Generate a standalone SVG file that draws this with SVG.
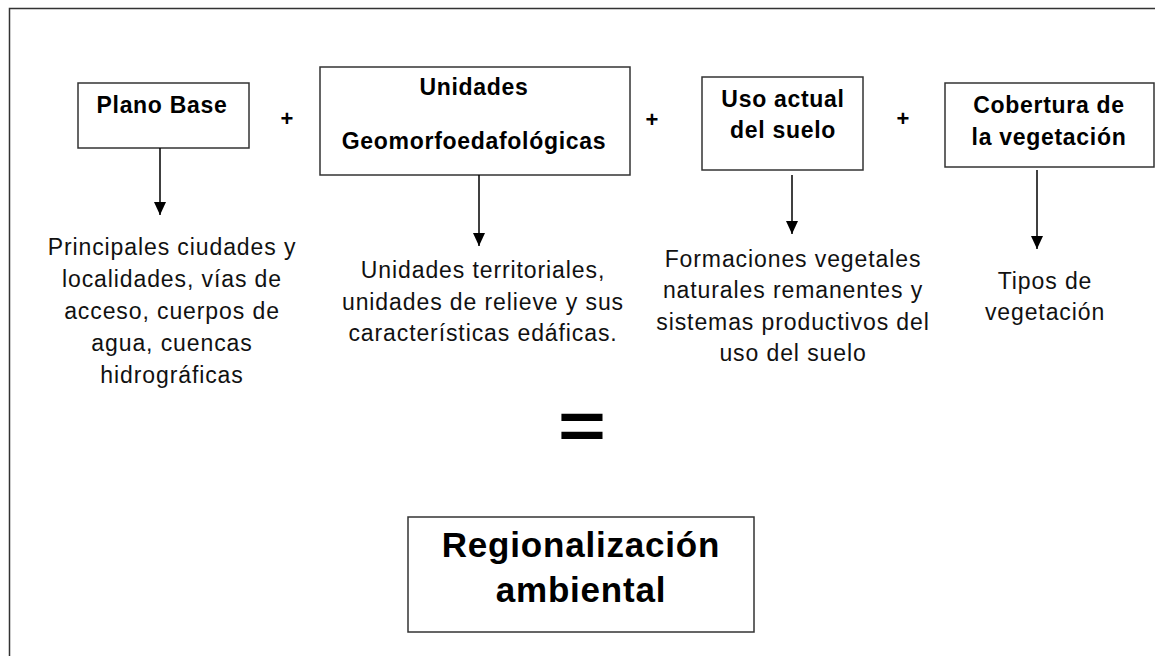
<svg xmlns="http://www.w3.org/2000/svg" width="1155" height="656" viewBox="0 0 1155 656">
  <style>
    .box { fill: #ffffff; stroke: #333333; stroke-width: 1.5; }
    .title { font-family: "Liberation Sans", Arial, sans-serif; font-weight: bold; font-size: 23px; letter-spacing: 0.7px; fill: #000; text-anchor: middle; }
    .desc { font-family: "Liberation Sans", Arial, sans-serif; font-size: 23px; letter-spacing: 0.9px; fill: #111; text-anchor: middle; }
    .plus { font-family: "Liberation Sans", Arial, sans-serif; font-weight: bold; font-size: 22px; fill: #000; text-anchor: middle; }
    .big { font-family: "Liberation Sans", Arial, sans-serif; font-weight: bold; font-size: 35px; letter-spacing: 0.8px; fill: #000; text-anchor: middle; }
    .conn { stroke: #000; stroke-width: 1.5; fill: none; marker-end: url(#arrow); }
  </style>
  <defs>
    <marker id="arrow" markerUnits="userSpaceOnUse" markerWidth="14" markerHeight="14" refX="13" refY="6" orient="auto">
      <path d="M0,0 L13,6 L0,12 Z" fill="#000"/>
    </marker>
  </defs>
  <rect x="0" y="0" width="1155" height="656" fill="#ffffff"/>
  <path d="M9.5,657 L9.5,8.5 L1156,8.5" fill="none" stroke="#333333" stroke-width="1.5"/>

  <g id="plano-base">
    <rect class="box" x="78" y="83" width="171" height="65"/>
    <text class="title" x="162" y="113">Plano Base</text>
  </g>
  <g id="unidades-geo">
    <rect class="box" x="320" y="67" width="310" height="108"/>
    <text class="title" x="474" y="95">Unidades</text>
    <text class="title" x="474" y="149">Geomorfoedafológicas</text>
  </g>
  <g id="uso-actual">
    <rect class="box" x="702" y="77" width="161" height="93"/>
    <text class="title" x="783" y="107">Uso actual</text>
    <text class="title" x="783" y="138">del suelo</text>
  </g>
  <g id="cobertura">
    <rect class="box" x="945" y="83" width="209" height="84"/>
    <text class="title" x="1049" y="113">Cobertura de</text>
    <text class="title" x="1049" y="145">la vegetación</text>
  </g>

  <g id="plus-signs">
    <text class="plus" x="287" y="126">+</text>
    <text class="plus" x="652" y="127">+</text>
    <text class="plus" x="903" y="126">+</text>
  </g>

  <g id="connectors">
    <line class="conn" x1="160" y1="148" x2="160" y2="215"/>
    <line class="conn" x1="479" y1="175" x2="479" y2="246"/>
    <line class="conn" x1="792" y1="175" x2="792" y2="234"/>
    <line class="conn" x1="1037" y1="170" x2="1037" y2="249"/>
  </g>

  <g id="desc-plano">
    <text class="desc" x="172" y="255">Principales ciudades y</text>
    <text class="desc" x="172" y="287">localidades, vías de</text>
    <text class="desc" x="172" y="319">acceso, cuerpos de</text>
    <text class="desc" x="172" y="351">agua, cuencas</text>
    <text class="desc" x="172" y="383">hidrográficas</text>
  </g>
  <g id="desc-unidades">
    <text class="desc" x="483" y="278">Unidades territoriales,</text>
    <text class="desc" x="483" y="310">unidades de relieve y sus</text>
    <text class="desc" x="483" y="341">características edáficas.</text>
  </g>
  <g id="desc-uso">
    <text class="desc" x="793" y="267">Formaciones vegetales</text>
    <text class="desc" x="793" y="298">naturales remanentes y</text>
    <text class="desc" x="793" y="330">sistemas productivos del</text>
    <text class="desc" x="793" y="361">uso del suelo</text>
  </g>
  <g id="desc-cobertura">
    <text class="desc" x="1045" y="289">Tipos de</text>
    <text class="desc" x="1045" y="320">vegetación</text>
  </g>

  <g id="equals" transform="translate(582,428) scale(1,0.82) translate(-582,-434)">
    <text x="582" y="460" font-family="Liberation Sans, Arial, sans-serif" font-weight="bold" font-size="82" text-anchor="middle" fill="#000">=</text>
  </g>

  <g id="regionalizacion">
    <rect class="box" x="408" y="517" width="346" height="115"/>
    <text class="big" x="581" y="557">Regionalización</text>
    <text class="big" x="581" y="602">ambiental</text>
  </g>
</svg>
